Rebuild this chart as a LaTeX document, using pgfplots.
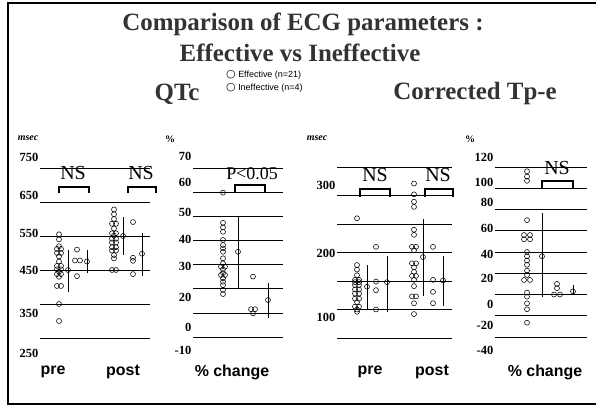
\documentclass[border=0pt]{standalone}
\usepackage{fontspec}
\setmainfont{Liberation Serif}
\newfontfamily\sansf{Liberation Sans}
\newfontfamily\djv{DejaVu Sans}
\usepackage{pgfplots}
\pgfplotsset{compat=1.18}
\pgfplotsset{
  panel/.style={
    scale only axis, clip=false, anchor=north west,
    axis line style={draw=none},
    xtick=\empty,
    yticklabels={},
    ymajorgrids,
    major grid style={black, line width=0.7bp},
    major tick length=0pt,
    extra y tick style={grid=none, major tick length=0pt},
    yticklabel style={font=\fontsize{12.5}{12.5}\selectfont\bfseries, inner sep=1.5bp},
  },
  pts/.style={only marks, mark=o, mark size=2.5bp, black, mark options={line width=0.55bp}},
  sd/.style={only marks, mark=o, mark size=2.5bp, black, mark options={line width=0.55bp, fill=white},
    error bars/.cd, y dir=both, y explicit, error mark=none, error bar style={line width=0.8bp}},
  brk/.style={black, line width=1.8bp, no markers},
}
\begin{document}
\begin{tikzpicture}
\useasboundingbox (0bp,0bp) rectangle (596bp,-407bp);
\fill[white] (0bp,0bp) rectangle (596bp,-407bp);
\draw[line width=1.6bp] (600bp,-3bp) -- (8bp,-3bp) -- (8bp,-404bp) -- (600bp,-404bp);

% ---------- Panel 1: QTc (msec)
\begin{axis}[panel, at={(40bp,-150bp)}, width=110bp, height=210bp,
  xmin=40, xmax=150, ymin=185.3, ymax=802.9,
  ytick={250,350,450,550,650,750},
  extra y ticks={782.4,670.6,558.8,450.0,323.5,205.9},
  extra y tick labels={750,650,550,450,350,250}]
\addplot[pts] coordinates {(59,555) (59,540) (57,512) (61,512) (57,500) (61,500) (59,490) (59,475)
  (57,462) (61,462) (57,452) (61,452) (59,445) (57,438) (61,438) (59,430) (57,403) (61,403)
  (59,350) (59,300) (59,520)};
\addplot[pts] coordinates {(77,510) (75,478) (80,478) (77,432)};
\addplot[sd] coordinates {(68,450) += (0,60) -= (0,65)};
\addplot[sd] coordinates {(87,475) += (0,33) -= (0,35)};
\addplot[pts] coordinates {(114,628) (114,614) (114,600) (112,586) (116,586) (114,572) (112,558) (116,558)
  (114,551) (112,542) (116,542) (112,531) (116,531) (112,517) (116,517) (112,507) (116,507)
  (114,494) (114,484) (112,450) (116,450)};
\addplot[pts] coordinates {(133,591) (133,486) (133,477) (133,438)};
\addplot[sd] coordinates {(123,550) += (0,56) -= (0,55)};
\addplot[sd] coordinates {(142,498) += (0,60) -= (0,65)};
\addplot[brk] coordinates {(59,676) (59,694) (89,694) (89,676)};
\addplot[brk] coordinates {(128,676) (128,694) (156,694) (156,676)};
\node[font=\fontsize{20}{20}\selectfont] at (axis cs:73,735) {NS};
\node[font=\fontsize{20}{20}\selectfont] at (axis cs:141,735) {NS};
\end{axis}

% ---------- Panel 2: QTc % change
\begin{axis}[panel, at={(193bp,-150bp)}, width=90bp, height=210bp,
  xmin=193, xmax=283, ymin=-9.53, ymax=77.46,
  ytick={0,10,20,30,40,50,60,70},
  extra y ticks={74.6,64.2,51.4,40.6,29.4,16.6,4.1,-5.4},
  extra y tick labels={70,60,50,40,30,20,0,-10}]
\addplot[pts] coordinates {(223,59.8) (223,47.3) (223,45.4) (223,43.6) (223,40.2) (223,38.1) (223,36.7)
  (223,35.3) (223,32.6) (223,30.5) (221,29.1) (225,29.1) (223,28.0) (223,26.5) (221,25.7) (225,25.7)
  (223,24.3) (223,22.9) (223,21.5) (223,19.5) (223,17.8)};
\addplot[pts] coordinates {(253,25.0) (251,11.5) (255,11.5) (253,9.8)};
\addplot[sd] coordinates {(238,35.3) += (0,14.5) -= (0,15.5)};
\addplot[sd] coordinates {(268,15.3) += (0,6.9) -= (0,7.6)};
\addplot[brk] coordinates {(235,59.8) (235,63.0) (265,63.0) (265,59.8)};
\node[font=\fontsize{18}{18}\selectfont] at (axis cs:252,67.8) {P<0.05};
\end{axis}

% ---------- Panel 3: Corrected Tp-e (msec)
\begin{axis}[panel, at={(337bp,-150bp)}, width=115bp, height=210bp,
  xmin=337, xmax=452, ymin=11.4, ymax=379.8,
  ytick={50,100,150,200,250,300,350},
  extra y ticks={318.4,199.1,86.8},
  extra y tick labels={300,200,100}]
\addplot[pts] coordinates {(357,260) (357,178) (357,170) (357,160) (355,152) (359,152) (355,148) (359,148)
  (355,143) (359,143) (355,135) (359,135) (355,128) (359,128) (355,119) (359,119) (357,113)
  (355,105) (359,105) (357,96) (357,100)};
\addplot[pts] coordinates {(376,210) (376,149) (376,134) (376,100)};
\addplot[sd] coordinates {(367,140) += (0,38) -= (0,40)};
\addplot[sd] coordinates {(387,148) += (0,45) -= (0,52)};
\addplot[pts] coordinates {(414,321) (414,302) (414,289) (414,280) (414,240) (414,231) (412,210) (416,210)
  (414,204) (412,181) (416,181) (414,174) (414,166) (412,159) (416,159) (414,152) (414,141)
  (412,123) (416,123) (414,111) (414,92)};
\addplot[pts] coordinates {(433,210) (433,152) (433,131) (433,111)};
\addplot[sd] coordinates {(423,192) += (0,66) -= (0,69)};
\addplot[sd] coordinates {(443,151) += (0,42) -= (0,45)};
\addplot[brk] coordinates {(360,298) (360,311) (390,311) (390,298)};
\addplot[brk] coordinates {(425,298) (425,311) (453,311) (453,298)};
\node[font=\fontsize{20}{20}\selectfont] at (axis cs:375,336) {NS};
\node[font=\fontsize{20}{20}\selectfont] at (axis cs:438,336) {NS};
\end{axis}

% ---------- Panel 4: Corrected Tp-e % change
\begin{axis}[panel, at={(495bp,-150bp)}, width=92bp, height=210bp,
  xmin=495, xmax=587, ymin=-61.6, ymax=136.0,
  ytick={-40,-20,0,20,40,60,80,100,120},
  extra y ticks={129.4,105.9,87.1,62.6,38.1,15.5,-8.9,-28.7,-52.2},
  extra y tick labels={120,100,80,60,40,20,0,-20,-40}]
\addplot[pts] coordinates {(527,116) (527,111) (527,107) (527,70) (524,56) (530,56) (524,52) (530,52)
  (527,40) (527,36) (527,32) (527,28) (527,22.5) (527,18.4) (524,13.7) (530,13.7)
  (527,1.8) (527,-2) (527,-8.3) (527,-13.9) (527,-26.5)};
\addplot[pts] coordinates {(554,0) (560,0) (557,10) (557,6)};
\addplot[sd] coordinates {(542,36) += (0,41) -= (0,38)};
\addplot[sd] coordinates {(573,3) += (0,6) -= (0,3)};
\addplot[brk] coordinates {(542,100) (542,107) (573,107) (573,100)};
\node[font=\fontsize{20}{20}\selectfont] at (axis cs:557,119) {NS};
\end{axis}

% ---------- titles and labels
\node[font=\fontsize{25}{25}\selectfont\bfseries, text=black!80] at (303bp,-24bp) {Comparison of ECG parameters :};
\node[font=\fontsize{25}{25}\selectfont\bfseries, text=black!80] at (300bp,-53bp) {Effective vs Ineffective};
\node[font=\fontsize{25}{25}\selectfont\bfseries, text=black!80] at (177bp,-94bp) {QTc};
\node[font=\fontsize{25}{25}\selectfont\bfseries, text=black!80] at (475bp,-94bp) {Corrected Tp-e};
\node[anchor=west, font=\sansf\fontsize{9}{13}\selectfont, align=left, inner sep=0pt] at (226bp,-81bp)
  {{\djv\fontsize{11}{13}\selectfont ○} Effective (n=21)\\{\djv\fontsize{11}{13}\selectfont ○} Ineffective (n=4)};
\node[font=\fontsize{10}{10}\selectfont\bfseries\itshape] at (28bp,-138bp) {msec};
\node[font=\fontsize{10}{10}\selectfont\bfseries] at (170bp,-139bp) {\%};
\node[font=\fontsize{10}{10}\selectfont\bfseries\itshape] at (317bp,-138bp) {msec};
\node[font=\fontsize{10}{10}\selectfont\bfseries] at (470bp,-139bp) {\%};
\node[font=\sansf\fontsize{16}{16}\selectfont\bfseries] at (53bp,-372bp) {pre};
\node[font=\sansf\fontsize{16}{16}\selectfont\bfseries] at (123bp,-372bp) {post};
\node[font=\sansf\fontsize{16}{16}\selectfont\bfseries] at (232bp,-372bp) {\% change};
\node[font=\sansf\fontsize{16}{16}\selectfont\bfseries] at (370bp,-372bp) {pre};
\node[font=\sansf\fontsize{16}{16}\selectfont\bfseries] at (432bp,-372bp) {post};
\node[font=\sansf\fontsize{16}{16}\selectfont\bfseries] at (545bp,-372bp) {\% change};
\end{tikzpicture}
\end{document}
